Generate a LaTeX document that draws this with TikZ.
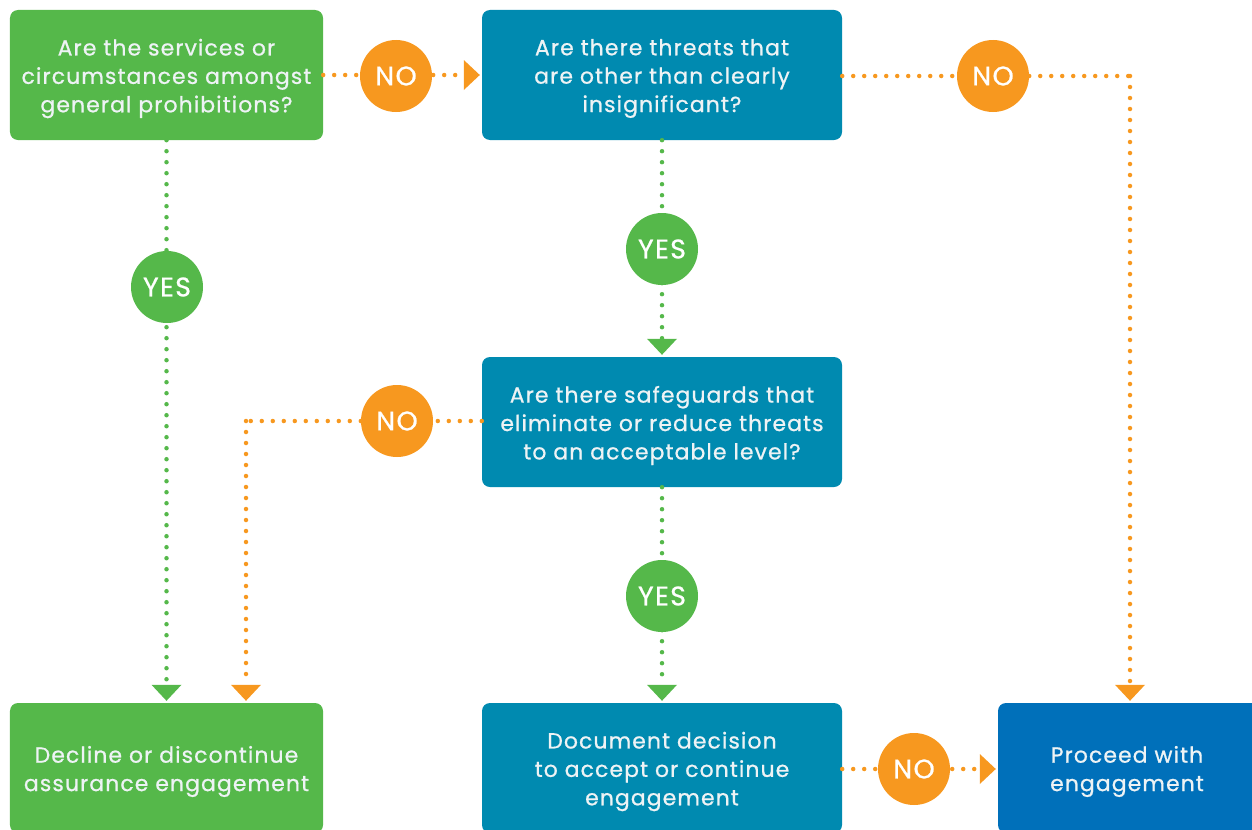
\documentclass[tikz,border=0pt]{standalone}
\usepackage{fontspec}
\setmainfont{Poppins}
\newfontfamily\boxfont{Poppins}[LetterSpace=5, FakeBold=0.8]
\definecolor{cgreen}{HTML}{55B84A}
\definecolor{cteal}{HTML}{008AB0}
\definecolor{cblue}{HTML}{0070BA}
\definecolor{corange}{HTML}{F7981F}
\definecolor{ctext}{HTML}{EEF3F5}
\usetikzlibrary{arrows.meta}
\begin{document}
\begin{tikzpicture}[x=1bp,y=-1bp,
  box/.style={rounded corners=8bp, minimum height=130bp, inner sep=0pt},
  lbl/.style={text=ctext, align=center, inner sep=0pt, yshift=-3.5bp,
    font=\boxfont\fontsize{22}{28.5}\selectfont},
  gbox/.style={box, fill=cgreen, minimum width=313bp},
  tbox/.style={box, fill=cteal, minimum width=360bp},
  bbox/.style={box, fill=cblue, minimum width=264bp},
  conn/.style={line width=4.5bp, line cap=round, dash pattern=on 0bp off 11bp,
    -{Triangle[width=30bp,length=16bp,line width=0pt]}, shorten >=2bp},
  plain/.style={line width=4.5bp, line cap=round, dash pattern=on 0bp off 11bp},
  gcon/.style={conn, draw=cgreen},
  ocon/.style={conn, draw=corange},
  ocon0/.style={plain, draw=corange},
  badge/.style={circle, minimum size=72bp, inner sep=0pt, text=white,
    font=\boxfont\fontsize{27}{27}\selectfont},
  nobadge/.style={badge, fill=corange},
  yesbadge/.style={badge, fill=cgreen}
]
\useasboundingbox (0,0) rectangle (1252,830);
\clip (0,0) rectangle (1252,830);

\node[gbox, label={[lbl]center:Are the services or\\circumstances amongst\\general prohibitions?}] (q1) at (166.5,75) {};
\node[tbox, label={[lbl]center:Are there threats that\\are other than clearly\\insignificant?}] (q2) at (662,75) {};
\node[tbox, label={[lbl]center:Are there safeguards that\\eliminate or reduce threats\\to an acceptable level?}] (q3) at (662,422) {};
\node[gbox, label={[lbl]center:Decline or discontinue\\assurance engagement}] (dec) at (166.5,768) {};
\node[tbox, label={[lbl]center:Document decision\\to accept or continue\\engagement}] (doc) at (662,768) {};
\node[bbox, label={[lbl,xshift=-3bp]center:Proceed with\\engagement}] (pr) at (1130,768) {};

\coordinate (c1) at (246,421);
\coordinate (c2) at (1130,76);

\draw[ocon] (q1.east) -- (q2.west);
\draw[ocon0] (q2.east |- c2) -- (c2);
\draw[ocon] (c2) -- (pr.north);
\draw[gcon] (q1.south) -- (dec.north);
\draw[gcon] (q2.south) -- (q3.north);
\draw[ocon0] (q3.west |- c1) -- (c1);
\draw[ocon] (c1) -- (c1 |- dec.north);
\draw[gcon] (q3.south) -- (doc.north);
\draw[ocon] (doc.east |- 0,769) -- (pr.west |- 0,769);

\node[nobadge] (n1) at (396,76) {NO};
\node[nobadge] (n2) at (993,76) {NO};
\node[yesbadge] (y1) at (167,287) {YES};
\node[yesbadge] (y2) at (662,249) {YES};
\node[nobadge] (n3) at (397,421) {NO};
\node[yesbadge] (y3) at (662,596) {YES};
\node[nobadge] (n4) at (914,769) {NO};
\end{tikzpicture}
\end{document}
